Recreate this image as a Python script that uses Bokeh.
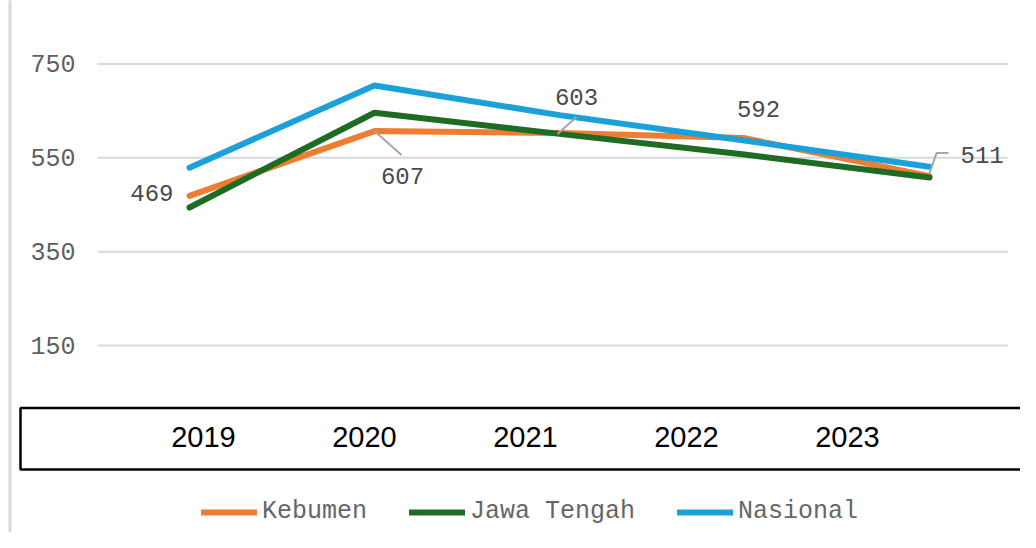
from bokeh.plotting import figure
from bokeh.models import (Range1d, LinearAxis, FixedTicker, BoxAnnotation, Legend,
                          LegendItem, ColumnDataSource)
from bokeh.embed import file_html
from bokeh.resources import INLINE

# ---- data ----
years = ["2019", "2020", "2021", "2022", "2023"]
kebumen = [469, 607, 603, 592, 511]
jawa_tengah = [444, 646, 601, 557, 508]
nasional = [529, 704, 641, 587, 531]
y_ticks = [150, 350, 550, 750]

series_names = ["Kebumen", "Jawa Tengah", "Nasional"]
colors = ["#ED7D31", "#1E6B24", "#1BA1DA"]

xs = list(range(len(years)))

# ---- layout constants (pixels) ----
W, H = 1020, 532
X0_PX, PX = 189.0, 185.0       # first category position, px per category
Y0_PX, PY = 157.3, 0.4692      # pixel of value 550, px per value unit
REF_V = 550
TBL0_PX, TBL_PX = 203.0, 161.0  # year-row label positions
MONO = "Liberation Mono"


def X(px):
    return (px - X0_PX) / PX


def Y(py):
    return REF_V + (Y0_PX - py) / PY


p = figure(width=W, height=H, x_range=Range1d(X(0), X(W)),
           y_range=Range1d(Y(H), Y(0)), x_axis_type=None,
           output_backend="svg", toolbar_location=None,
           min_border_left=0, min_border_right=0, min_border_top=0,
           min_border_bottom=0)
p.outline_line_color = None
p.background_fill_color = "white"
p.border_fill_color = "white"
p.ygrid.visible = False
p.xgrid.visible = False

# y axis drawn inside the frame at the plot-area edge
yax = p.yaxis[0]
yax.fixed_location = X(97)
yax.ticker = FixedTicker(ticks=y_ticks)
yax.axis_line_color = None
yax.major_tick_line_color = None
yax.minor_tick_line_color = None
yax.major_tick_out = 0
yax.major_tick_in = 0
yax.major_label_standoff = 22
yax.major_label_text_font = MONO
yax.major_label_text_font_size = "25px"
yax.major_label_text_color = "#5F5F5F"

# horizontal gridlines across the plot area
p.segment(x0=X(97), x1=X(1007), y0=y_ticks, y1=y_ticks,
          line_color="#D9D9D9", line_width=2)

# year row (table-like, its own spacing as in the reference)
p.extra_x_ranges["tbl"] = Range1d((0 - TBL0_PX) / TBL_PX, (W - TBL0_PX) / TBL_PX)
tax = LinearAxis(x_range_name="tbl", ticker=FixedTicker(ticks=xs),
                 major_label_overrides={i: y for i, y in enumerate(years)},
                 fixed_location=Y(400))
tax.axis_line_color = None
tax.major_tick_line_color = None
tax.minor_tick_line_color = None
tax.major_tick_out = 0
tax.major_tick_in = 0
tax.major_label_standoff = 26
tax.major_label_text_font = "Liberation Sans"
tax.major_label_text_font_size = "29px"
tax.major_label_text_color = "#000000"
p.add_layout(tax, "below")

# box around the year row and the left border line
p.add_layout(BoxAnnotation(left=20, right=1040, top=407.5, bottom=469,
                           left_units="canvas", right_units="canvas",
                           top_units="canvas", bottom_units="canvas",
                           fill_alpha=0, line_color="black", line_alpha=1,
                           line_width=2.5))
p.add_layout(BoxAnnotation(left=8, right=11, top=-5, bottom=560,
                           left_units="canvas", right_units="canvas",
                           top_units="canvas", bottom_units="canvas",
                           fill_color="#D9D9D9", fill_alpha=1, line_color=None))

# lines
renderers = []
for vals, col in zip([kebumen, jawa_tengah, nasional], colors):
    r = p.line(xs, vals, line_color=col, line_width=6,
               line_cap="round", line_join="round")
    renderers.append(r)


# leader lines (pixel offsets converted to data units)
def lead(i, pts):
    return ([xs[i] + dx / PX for dx, dy in pts],
            [kebumen[i] - dy / PY for dx, dy in pts])


l1 = lead(1, [(0, 0), (27, 24)])
l2 = lead(2, [(-2, 1), (17, -16)])
l4 = lead(4, [(0, -3), (7, -23), (19, -23)])
p.multi_line([l1[0], l2[0], l4[0]], [l1[1], l2[1], l4[1]],
             line_color="#A6A6A6", line_width=2)

# data labels for Kebumen
lab = ColumnDataSource(dict(
    x=xs, y=kebumen, text=[str(v) for v in kebumen],
    xo=[-16, 28, 17, 14, 31], yo=[-3, 45, -36, -29, -21],
    al=["right", "center", "center", "center", "left"]))
p.text(x="x", y="y", text="text", x_offset="xo", y_offset="yo",
       text_align="al", text_baseline="middle", source=lab,
       text_font={"value": MONO}, text_font_size="24px", text_color="#4A4A4A")

legend = Legend(items=[LegendItem(label=n, renderers=[r])
                       for n, r in zip(series_names, renderers)],
                orientation="horizontal", location=(201, H - 526),
                glyph_width=56, glyph_height=20, label_standoff=5, spacing=42,
                padding=0, margin=0, border_line_color=None,
                background_fill_alpha=0,
                label_text_font=MONO, label_text_font_size="25px",
                label_text_color="#666666")
p.add_layout(legend, "center")

open("out.html", "w").write(file_html(p, INLINE))
